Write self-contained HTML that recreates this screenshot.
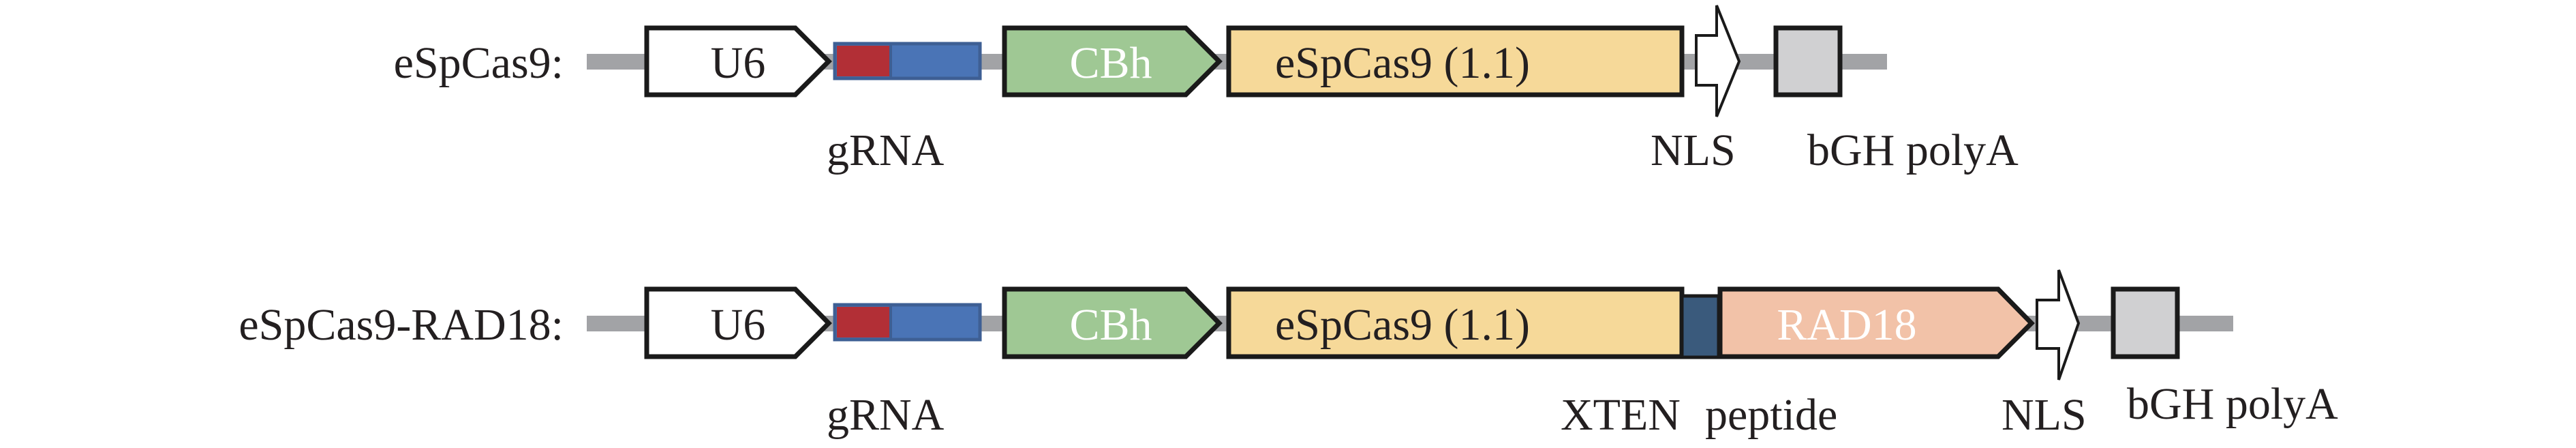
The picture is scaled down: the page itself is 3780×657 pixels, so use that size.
<!DOCTYPE html>
<html><head><meta charset="utf-8"><style>
html,body{margin:0;padding:0;background:#fff;}
svg{display:block;}
text{font-family:"Liberation Serif",serif;font-size:66px;fill:#231f20;}
</style></head><body>
<svg width="3780" height="657" viewBox="0 0 3780 657" xmlns="http://www.w3.org/2000/svg">
<g id="row1">
<rect x="861" y="79" width="1908" height="23" fill="#a2a3a6"/>
<polygon points="949,41 1167,41 1216,90 1167,139 949,139" fill="#fff" stroke="#1a1a1a" stroke-width="7"/>
<rect x="1225" y="64" width="213" height="51" fill="#4a74b6" stroke="#3e5f94" stroke-width="5"/>
<rect x="1228" y="67" width="79" height="45" fill="#b22f36"/>
<line x1="1307" y1="64" x2="1307" y2="115" stroke="#3e5f94" stroke-width="4"/>
<polygon points="1474,41 1740,41 1789,90 1740,139 1474,139" fill="#9fc894" stroke="#1a1a1a" stroke-width="7"/>
<rect x="1803" y="41" width="665" height="98" fill="#f6d999" stroke="#1a1a1a" stroke-width="7"/>
<polygon points="2489,52 2519,52 2519,8 2552,90 2519,171 2519,125 2489,125" fill="#fff" stroke="#1a1a1a" stroke-width="4"/>
<rect x="2606" y="41" width="94" height="98" fill="#d0d0d2" stroke="#1a1a1a" stroke-width="7"/>
<text x="827" y="114" text-anchor="end">eSpCas9:</text>
<text x="1083" y="114" text-anchor="middle">U6</text>
<text x="1630" y="114" text-anchor="middle" style="fill:#fff">CBh</text>
<text x="1871" y="114">eSpCas9 (1.1)</text>
<text x="1213" y="242">gRNA</text>
<text x="2422" y="242">NLS</text>
<text x="2652" y="242">bGH polyA</text>
</g>
<g id="row2">
<rect x="861" y="463" width="2416" height="23" fill="#a2a3a6"/>
<polygon points="949,424 1167,424 1216,474 1167,523 949,523" fill="#fff" stroke="#1a1a1a" stroke-width="7"/>
<rect x="1225" y="447" width="213" height="51" fill="#4a74b6" stroke="#3e5f94" stroke-width="5"/>
<rect x="1228" y="450" width="79" height="45" fill="#b22f36"/>
<line x1="1307" y1="447" x2="1307" y2="498" stroke="#3e5f94" stroke-width="4"/>
<polygon points="1474,424 1740,424 1789,474 1740,523 1474,523" fill="#9fc894" stroke="#1a1a1a" stroke-width="7"/>
<rect x="1803" y="424" width="665" height="99" fill="#f6d999" stroke="#1a1a1a" stroke-width="7"/>
<rect x="2468" y="434" width="54" height="90" fill="#3a5a7c" stroke="#1a1a1a" stroke-width="5"/>
<polygon points="2524,424 2932,424 2981,474 2932,523 2524,523" fill="#f2c2a8" stroke="#1a1a1a" stroke-width="7"/>
<polygon points="2989,440 3021,440 3021,396 3050,474 3021,557 3021,511 2989,511" fill="#fff" stroke="#1a1a1a" stroke-width="4"/>
<rect x="3101" y="424" width="94" height="99" fill="#d0d0d2" stroke="#1a1a1a" stroke-width="7"/>
<text x="827" y="498" text-anchor="end">eSpCas9-RAD18:</text>
<text x="1083" y="498" text-anchor="middle">U6</text>
<text x="1630" y="498" text-anchor="middle" style="fill:#fff">CBh</text>
<text x="1871" y="498">eSpCas9 (1.1)</text>
<text x="2710" y="498" text-anchor="middle" style="fill:#fff">RAD18</text>
<text x="1213" y="630">gRNA</text>
<text x="2290" y="630">XTEN</text>
<text x="2502" y="630">peptide</text>
<text x="2937" y="630">NLS</text>
<text x="3121" y="614">bGH polyA</text>
</g>
</svg>
</body></html>
